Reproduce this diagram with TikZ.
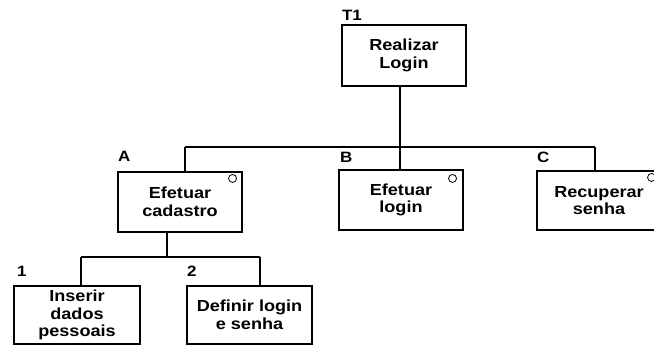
\documentclass[tikz,border=0pt]{standalone}
\usepackage{fontspec}
\setmainfont{Liberation Sans}
\newfontfamily\boxfont[FakeStretch=1.13]{Liberation Sans Bold}
\begin{document}
\begin{tikzpicture}[x=1pt,y=-1pt,
  line width=1.1pt,
  box/.style={draw, rectangle, minimum width=124pt, minimum height=60pt, inner sep=0pt,
    align=center, font=\boxfont\fontsize{16}{17.5}\selectfont},
  tag/.style={anchor=base west, inner sep=0pt, font=\boxfont\fontsize{15}{16}\selectfont},
  decomp/.style={draw, circle, line width=0.8pt, minimum size=8pt, inner sep=0pt}
]
\clip (0,0) rectangle (654,348);
% boxes
\node[box, minimum height=61pt] (t1) at (404,55.5) {Realizar\\Login};
\node[box] (a) at (180,202) {Efetuar\\cadastro};
\node[box] (b) at (401,200) {Efetuar\\login};
\node[box, minimum height=59pt] (c) at (599,200.5) {Recuperar\\senha};
\node[box, minimum width=126pt, minimum height=58pt] (n1) at (77,315) {Inserir\\dados\\pessoais};
\node[box, minimum width=125pt, minimum height=58pt] (n2) at (249.5,315) {Definir login\\e senha};
% labels
\node[tag] (lt1) at ([yshift=4pt]t1.north west) {T1};
\node[tag] (la) at ([yshift=10pt]a.north west) {A};
\node[tag] (lb) at ([yshift=7pt,xshift=1pt]b.north west) {B};
\node[tag] (lc) at ([yshift=8pt]c.north west) {C};
\node[tag] (l1) at ([yshift=9pt,xshift=3pt]n1.north west) {1};
\node[tag] (l2) at ([yshift=9pt]n2.north west) {2};
% decomposition marks
\node[decomp] (ma) at ([xshift=-10pt,yshift=-7pt]a.north east) {};
\node[decomp] (mb) at ([xshift=-11pt,yshift=-9pt]b.north east) {};
\node[decomp] (mc) at ([xshift=-10pt,yshift=-7pt]c.north east) {};
% bus coordinates
\coordinate (bus) at (400,147);
\coordinate (busA) at (185,147);
\coordinate (busC) at (595,147);
\coordinate (sub) at (167,257);
\coordinate (sub1) at (81,257);
\coordinate (sub2) at (260,257);
% connectors
\draw (t1.south -| bus) -- (bus);
\draw (busA) -- (busC);
\draw (busA) -- (busA |- a.north);
\draw (bus) -- (bus |- b.north);
\draw (busC) -- (busC |- c.north);
\draw (a.south -| sub) -- (sub);
\draw (sub1) -- (sub2);
\draw (sub1) -- (sub1 |- n1.north);
\draw (sub2) -- (sub2 |- n2.north);
\end{tikzpicture}
\end{document}
